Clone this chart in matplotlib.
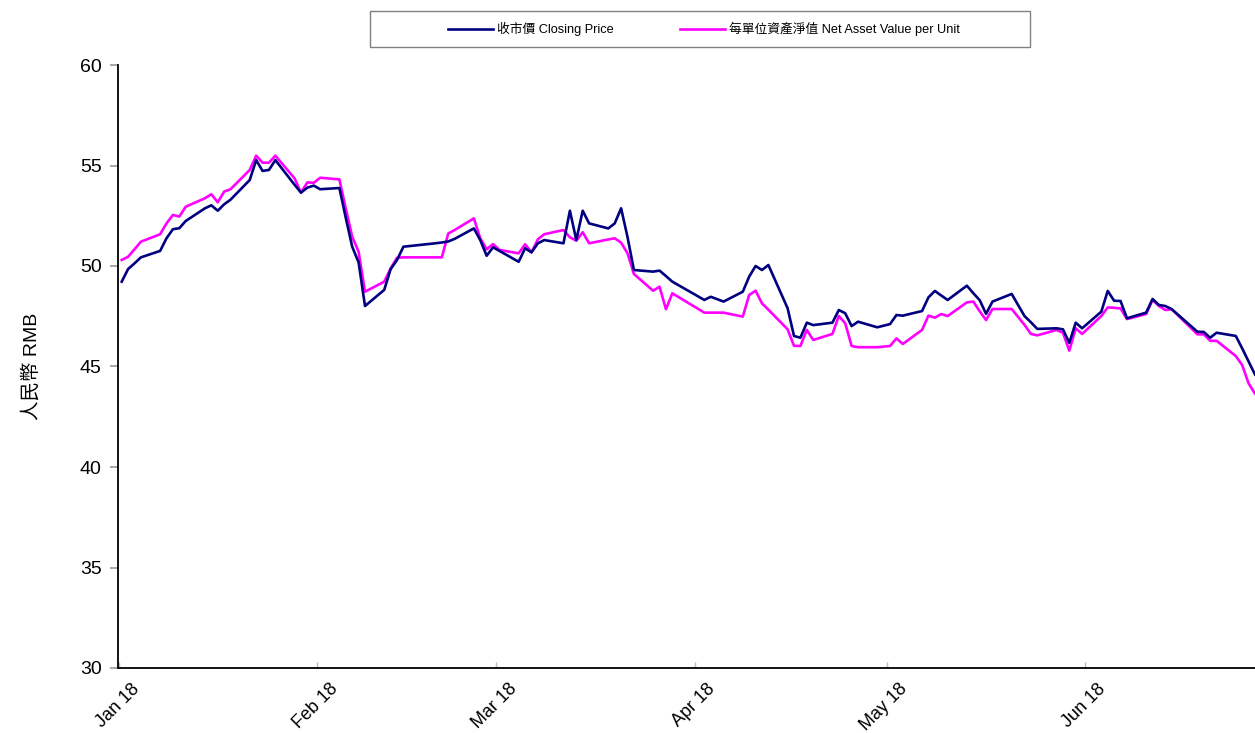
import matplotlib
matplotlib.use("Agg")
import matplotlib.pyplot as plt
import matplotlib.dates as mdates
import pandas as pd
from matplotlib.patches import Rectangle
from matplotlib.lines import Line2D
from matplotlib.transforms import ScaledTranslation

plt.rcParams["font.family"] = ["Liberation Sans Narrow", "Liberation Sans", "Noto Sans CJK TC"]

# trading days, Jan-Jun 2018
dates = [
    "2018-01-02", "2018-01-03", "2018-01-04", "2018-01-05",
    "2018-01-08", "2018-01-09", "2018-01-10", "2018-01-11", "2018-01-12",
    "2018-01-15", "2018-01-16", "2018-01-17", "2018-01-18", "2018-01-19",
    "2018-01-22", "2018-01-23", "2018-01-24", "2018-01-25", "2018-01-26",
    "2018-01-29", "2018-01-30", "2018-01-31", "2018-02-01", "2018-02-02",
    "2018-02-05", "2018-02-06", "2018-02-07", "2018-02-08", "2018-02-09",
    "2018-02-12", "2018-02-13", "2018-02-14", "2018-02-15",
    "2018-02-20", "2018-02-21", "2018-02-22", "2018-02-23",
    "2018-02-26", "2018-02-27", "2018-02-28", "2018-03-01", "2018-03-02",
    "2018-03-05", "2018-03-06", "2018-03-07", "2018-03-08", "2018-03-09",
    "2018-03-12", "2018-03-13", "2018-03-14", "2018-03-15", "2018-03-16",
    "2018-03-19", "2018-03-20", "2018-03-21", "2018-03-22", "2018-03-23",
    "2018-03-26", "2018-03-27", "2018-03-28", "2018-03-29",
    "2018-04-03", "2018-04-04", "2018-04-06",
    "2018-04-09", "2018-04-10", "2018-04-11", "2018-04-12", "2018-04-13",
    "2018-04-16", "2018-04-17", "2018-04-18", "2018-04-19", "2018-04-20",
    "2018-04-23", "2018-04-24", "2018-04-25", "2018-04-26", "2018-04-27",
    "2018-04-30", "2018-05-02", "2018-05-03", "2018-05-04",
    "2018-05-07", "2018-05-08", "2018-05-09", "2018-05-10", "2018-05-11",
    "2018-05-14", "2018-05-15", "2018-05-16", "2018-05-17", "2018-05-18",
    "2018-05-21", "2018-05-23", "2018-05-24", "2018-05-25",
    "2018-05-28", "2018-05-29", "2018-05-30", "2018-05-31", "2018-06-01",
    "2018-06-04", "2018-06-05", "2018-06-06", "2018-06-07", "2018-06-08",
    "2018-06-11", "2018-06-12", "2018-06-13", "2018-06-14", "2018-06-15",
    "2018-06-19", "2018-06-20", "2018-06-21", "2018-06-22",
    "2018-06-25", "2018-06-26", "2018-06-27", "2018-06-28",
]

closing_price = [
    49.22, 49.85, 50.13, 50.43,
    50.75, 51.38, 51.83, 51.88, 52.24,
    52.87, 53.02, 52.75, 53.07, 53.30,
    54.28, 55.27, 54.73, 54.78, 55.27,
    54.04, 53.65, 53.90, 54.00, 53.82,
    53.88, 52.39, 50.96, 50.18, 48.01,
    48.81, 49.84, 50.30, 50.96,
    51.13, 51.17, 51.22, 51.35,
    51.87, 51.29, 50.51, 50.93, 50.75,
    50.21, 50.88, 50.68, 51.13, 51.29,
    51.13, 52.75, 51.29, 52.75, 52.12,
    51.87, 52.12, 52.87, 51.44, 49.80,
    49.72, 49.77, 49.50, 49.22,
    48.31, 48.47, 48.23,
    48.72, 49.47, 50.00, 49.80, 50.05,
    47.90, 46.52, 46.43, 47.18, 47.06,
    47.18, 47.81, 47.65, 47.01, 47.23,
    46.95, 47.11, 47.56, 47.53,
    47.76, 48.44, 48.76, 48.53, 48.31,
    49.02, 48.65, 48.30, 47.62, 48.23,
    48.61, 47.51, 47.20, 46.87,
    46.90, 46.85, 46.18, 47.18, 46.90,
    47.73, 48.76, 48.27, 48.26, 47.40,
    47.68, 48.36, 48.06, 48.01, 47.85,
    46.73, 46.72, 46.43, 46.68,
    46.52, 45.90, 45.25, 44.60,
]

nav_per_unit = [
    50.30, 50.46, 50.83, 51.21,
    51.58, 52.12, 52.54, 52.46, 52.95,
    53.37, 53.57, 53.17, 53.70, 53.82,
    54.78, 55.49, 55.14, 55.14, 55.49,
    54.36, 53.65, 54.16, 54.14, 54.39,
    54.31, 52.85, 51.46, 50.71, 48.72,
    49.22, 49.88, 50.41, 50.43,
    50.43, 50.43, 51.62, 51.79,
    52.37, 51.38, 50.83, 51.09, 50.80,
    50.63, 51.08, 50.68, 51.33, 51.58,
    51.79, 51.43, 51.26, 51.68, 51.13,
    51.32, 51.38, 51.16, 50.63, 49.60,
    48.77, 48.97, 47.85, 48.64,
    47.68, 47.68, 47.68,
    47.48, 48.56, 48.77, 48.14, 47.83,
    46.85, 46.03, 46.02, 46.82, 46.32,
    46.62, 47.51, 47.15, 46.02, 45.96,
    45.96, 46.02, 46.40, 46.12,
    46.82, 47.53, 47.43, 47.61, 47.51,
    48.19, 48.23, 47.75, 47.31, 47.86,
    47.86, 47.07, 46.62, 46.55,
    46.82, 46.68, 45.79, 46.90, 46.62,
    47.51, 47.94, 47.92, 47.89, 47.36,
    47.61, 48.31, 48.01, 47.81, 47.85,
    46.60, 46.60, 46.28, 46.28,
    45.52, 45.07, 44.16, 43.65,
]

month_ticks = ["2018-01-01", "2018-02-01", "2018-03-01", "2018-04-01", "2018-05-01", "2018-06-01"]
y_ticks = [30, 35, 40, 45, 50, 55, 60]

label_price = "收市價 Closing Price"
label_nav = "每單位資產淨值 Net Asset Value per Unit"
y_label = "人民幣 RMB"

x = pd.to_datetime(dates)
half_day = pd.Timedelta(hours=12)

fig = plt.figure(figsize=(12.55, 7.33), dpi=100)
ax = fig.add_axes([118.5 / 1255, 1 - 668 / 733, 1 - 118.5 / 1255, (668 - 65) / 733])

ax.plot(x, closing_price, color="#000080", lw=1.9, zorder=3)
ax.plot(x, nav_per_unit, color="#FF00FF", lw=1.9, zorder=2)

ax.set_xlim(pd.Timestamp("2018-01-01") + half_day, x[-1])
ax.set_ylim(30, 60)
ax.set_yticks(y_ticks)
ax.set_xticks(pd.to_datetime(month_ticks) + half_day)
ax.xaxis.set_major_formatter(mdates.DateFormatter("%b %y"))

for side in ["top", "right"]:
    ax.spines[side].set_visible(False)
for side in ["left", "bottom"]:
    ax.spines[side].set_linewidth(1.3)
    ax.spines[side].set_color("black")

ax.tick_params(axis="y", direction="out", length=6, width=1.2, color="#999999",
               labelsize=14, pad=6)
ax.tick_params(axis="x", direction="in", length=4, width=1, color="#bbbbbb",
               labelsize=13, pad=9)
for lab in ax.get_xticklabels():
    lab.set_rotation(45)
    lab.set_ha("right")
    lab.set_rotation_mode("anchor")
    lab.set_transform(lab.get_transform() + ScaledTranslation(0.12, 0, fig.dpi_scale_trans))

ax.set_ylabel(y_label, fontsize=14)
ax.yaxis.label.set_va("center")
ax.yaxis.set_label_coords((31 - 118.5) / 1136.5, 0.5)

# legend box above the plot
fig.patches.append(Rectangle((370 / 1255, 1 - 47 / 733), 660 / 1255, 36 / 733,
                             transform=fig.transFigure, fill=False,
                             edgecolor="#808080", lw=1))
handles = [Line2D([], [], color="#000080", lw=1.9),
           Line2D([], [], color="#FF00FF", lw=1.9)]
fig.legend(handles, [label_price, label_nav], loc="center",
           bbox_to_anchor=(704 / 1255, 1 - 29 / 733), ncol=2, frameon=False,
           fontsize=9.2, handlelength=3.5, handletextpad=0.3, columnspacing=5.2)

fig.savefig("out.png", dpi=100)
